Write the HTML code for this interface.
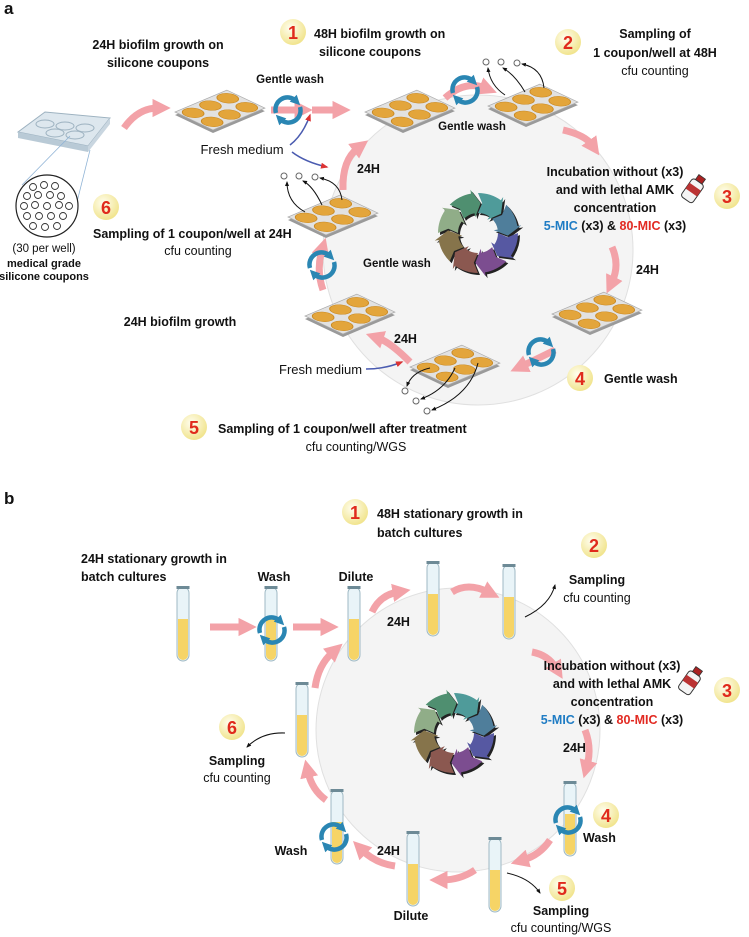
<!DOCTYPE html>
<html><head><meta charset="utf-8"><style>
html,body{margin:0;padding:0;background:#fff}
svg{display:block}
text{font-family:"Liberation Sans",Arial,sans-serif;fill:#111}
.b{font-weight:bold;font-size:12.5px}
.r{font-size:12.5px}
.s{font-size:11.5px}
.n{font-weight:bold;font-size:18px;fill:#e02a1c;text-anchor:middle}
.pk{fill:none;stroke:#f3a2a8;stroke-width:7;marker-end:url(#ph)}
.bl{fill:none;stroke:#111;stroke-width:1;marker-end:url(#bh)}
.bu{fill:none;stroke:#4a5bb0;stroke-width:1.5;marker-end:url(#rh)}
</style></head><body>
<svg width="749" height="937" viewBox="0 0 749 937" xmlns="http://www.w3.org/2000/svg">
<defs>
<marker id="ph" viewBox="0 0 10 10" refX="3" refY="5" markerWidth="2.6" markerHeight="2.8" orient="auto"><path d="M0,0 L10,5 L0,10 Z" fill="#f3a2a8"/></marker>
<marker id="bh" viewBox="0 0 10 10" refX="8" refY="5" markerWidth="5" markerHeight="5" orient="auto"><path d="M0,1 L10,5 L0,9 Z" fill="#111"/></marker>
<marker id="rh" viewBox="0 0 10 10" refX="8" refY="5" markerWidth="5" markerHeight="5" orient="auto"><path d="M0,1 L10,5 L0,9 Z" fill="#d33"/></marker>
<marker id="wh" viewBox="0 0 10 10" refX="4" refY="5" markerWidth="2.2" markerHeight="2.4" orient="auto"><path d="M0,0 L10,5 L0,10 Z" fill="#2a86b3"/></marker>
<radialGradient id="bg" cx="40%" cy="35%" r="65%"><stop offset="0" stop-color="#fffef0"/><stop offset="1" stop-color="#f1e48e"/></radialGradient>
<g id="plate">
  <g transform="matrix(17.3,-7.3,19,9,0,27)">
    <rect x="0" y="0" width="3" height="2" fill="#9a9a9a"/>
  </g>
  <g transform="matrix(17.3,-7.3,19,9,0,24)">
    <rect x="0" y="0" width="3" height="2" fill="#e2e2e2" stroke="#aaa" stroke-width="0.05"/>
    <g fill="#e3a53b" stroke="#c98a25" stroke-width="0.04">
      <circle cx="0.5" cy="0.5" r="0.42"/><circle cx="1.5" cy="0.5" r="0.42"/><circle cx="2.5" cy="0.5" r="0.42"/>
      <circle cx="0.5" cy="1.5" r="0.42"/><circle cx="1.5" cy="1.5" r="0.42"/><circle cx="2.5" cy="1.5" r="0.42"/>
    </g>
  </g>
</g>
<g id="tube">
  <rect x="-6" y="0" width="12" height="74" rx="6" fill="#e9f4f8" stroke="#9fb9c4" stroke-width="1"/>
  <path d="M-5,32 L5,32 L5,68 A5,5 0 0 1 -5,68 Z" fill="#f6d466"/>
  <rect x="-6.5" y="-1" width="13" height="3" fill="#6d8a96"/>
</g>
<g id="wash">
  <path d="M-12,3 A12,12 0 0 1 8,-9" fill="none" stroke="#2a86b3" stroke-width="4.5" marker-end="url(#wh)"/>
  <path d="M12,-3 A12,12 0 0 1 -8,9" fill="none" stroke="#2a86b3" stroke-width="4.5" marker-end="url(#wh)"/>
</g>
<path id="seg" d="M0,-40 A40,40 0 0 1 22.9,-32.8 L25.2,-36 L23,-19.3 L9.2,-13.1 L11.5,-16.4 A20,20 0 0 0 0,-20 L4.2,-29.7 Z"/>
<g id="cycle">
  <g fill="#222" transform="translate(2,2)">
    <use href="#seg"/><use href="#seg" transform="rotate(45)"/><use href="#seg" transform="rotate(90)"/><use href="#seg" transform="rotate(135)"/>
    <use href="#seg" transform="rotate(180)"/><use href="#seg" transform="rotate(225)"/><use href="#seg" transform="rotate(270)"/><use href="#seg" transform="rotate(315)"/>
  </g>
  <use href="#seg" fill="#4f9b9a"/>
  <use href="#seg" transform="rotate(45)" fill="#4f7e9b"/>
  <use href="#seg" transform="rotate(90)" fill="#5658a2"/>
  <use href="#seg" transform="rotate(135)" fill="#7c4d90"/>
  <use href="#seg" transform="rotate(180)" fill="#8b5850"/>
  <use href="#seg" transform="rotate(225)" fill="#86744b"/>
  <use href="#seg" transform="rotate(270)" fill="#90ad88"/>
  <use href="#seg" transform="rotate(315)" fill="#4f8f70"/>
</g>
<g id="vial">
  <rect x="-7" y="-10" width="14" height="22" rx="3" fill="#f4f4f4" stroke="#333" stroke-width="1"/>
  <rect x="-7" y="-4" width="14" height="7" fill="#b33"/>
  <rect x="-4" y="-16" width="8" height="6" fill="#a22" stroke="#333" stroke-width="0.8"/>
</g>
</defs>

<!-- ============ PANEL A ============ -->
<text x="4" y="14" style="font-weight:bold;font-size:17px">a</text>
<circle cx="478" cy="250" r="155" fill="#f4f4f4" stroke="#e0e0e0"/>
<use href="#cycle" x="478" y="233"/>

<polygon points="18,132 45,112 110,118 88,146" fill="#dde7ee" stroke="#9db2c0"/>
<polygon points="18,132 88,146 88,152 18,138" fill="#b9cad6"/>
<polygon points="88,146 110,118 110,124 88,152" fill="#c9d6e0"/>
<g fill="none" stroke="#9db2c0"><ellipse cx="45" cy="124" rx="9" ry="4"/><ellipse cx="65" cy="126" rx="9" ry="4"/><ellipse cx="85" cy="128" rx="9" ry="4"/><ellipse cx="55" cy="133" rx="9" ry="4"/><ellipse cx="75" cy="135" rx="9" ry="4"/></g>
<line x1="70" y1="136" x2="22" y2="185" stroke="#8fb3d6" stroke-width="0.8"/>
<line x1="90" y1="150" x2="75" y2="210" stroke="#8fb3d6" stroke-width="0.8"/>
<circle cx="47" cy="206" r="31" fill="#fff" stroke="#222" stroke-width="1.2"/>
<g fill="none" stroke="#333" stroke-width="0.9">
<circle cx="33" cy="187" r="3.5"/><circle cx="44" cy="185" r="3.5"/><circle cx="55" cy="186" r="3.5"/><circle cx="27" cy="196" r="3.5"/><circle cx="38" cy="195" r="3.5"/><circle cx="50" cy="195" r="3.5"/><circle cx="61" cy="196" r="3.5"/><circle cx="24" cy="206" r="3.5"/><circle cx="35" cy="205" r="3.5"/><circle cx="47" cy="206" r="3.5"/><circle cx="59" cy="205" r="3.5"/><circle cx="69" cy="206" r="3.5"/><circle cx="27" cy="216" r="3.5"/><circle cx="39" cy="216" r="3.5"/><circle cx="51" cy="216" r="3.5"/><circle cx="63" cy="216" r="3.5"/><circle cx="33" cy="226" r="3.5"/><circle cx="45" cy="227" r="3.5"/><circle cx="57" cy="226" r="3.5"/>
</g>
<text x="44" y="252" class="s" text-anchor="middle">(30 per well)</text>
<text x="44" y="267" class="b" style="font-size:11px" text-anchor="middle">medical grade</text>
<text x="44" y="280" class="b" style="font-size:11px" text-anchor="middle">silicone coupons</text>

<path class="pk" d="M124,128 Q138,108 158,108"/>
<text x="158" y="49" class="b" text-anchor="middle">24H biofilm growth on</text>
<text x="158" y="67" class="b" text-anchor="middle">silicone coupons</text>
<use href="#plate" x="175" y="88"/>
<path class="pk" d="M271,110 L300,110"/>
<path class="pk" d="M312,110 L338,110"/>
<use href="#wash" x="288" y="110"/>
<text x="290" y="83" class="b" style="font-size:11.5px" text-anchor="middle">Gentle wash</text>
<text x="242" y="154" class="r" text-anchor="middle" style="font-size:13px">Fresh medium</text>
<path class="bu" d="M290,145 Q303,135 310,115"/>
<path class="bu" d="M292,152 Q305,162 327,167"/>

<circle cx="293" cy="32" r="13" fill="url(#bg)"/><text x="293" y="39" class="n">1</text>
<text x="314" y="38" class="b">48H biofilm growth on</text>
<text x="370" y="56" class="b" text-anchor="middle">silicone coupons</text>
<use href="#plate" x="365" y="88"/>
<path class="pk" d="M445,98 Q465,80 485,88"/>
<use href="#wash" x="465" y="90"/>
<text x="472" y="130" class="b" style="font-size:11.5px" text-anchor="middle">Gentle wash</text>
<use href="#plate" x="488" y="82"/>
<g fill="#fff" stroke="#666" stroke-width="1"><circle cx="486" cy="62" r="3"/><circle cx="501" cy="62" r="3"/><circle cx="517" cy="63" r="3"/></g>
<path class="bl" d="M505,95 Q490,85 488,68"/>
<path class="bl" d="M525,92 Q515,75 503,68"/>
<path class="bl" d="M544,88 Q542,68 522,64"/>

<circle cx="568" cy="42" r="13" fill="url(#bg)"/><text x="568" y="49" class="n">2</text>
<text x="655" y="38" class="b" text-anchor="middle">Sampling of</text>
<text x="655" y="57" class="b" text-anchor="middle">1 coupon/well at 48H</text>
<text x="655" y="75" class="r" text-anchor="middle">cfu counting</text>
<path class="pk" d="M563,130 Q585,135 592,145"/>

<text x="615" y="176" class="b" text-anchor="middle">Incubation without (x3)</text>
<text x="615" y="194" class="b" text-anchor="middle">and with lethal AMK</text>
<text x="615" y="212" class="b" text-anchor="middle">concentration</text>
<text x="615" y="230" class="b" text-anchor="middle"><tspan style="fill:#1f7cc4">5-MIC</tspan> (x3) &amp; <tspan style="fill:#e22a22">80-MIC</tspan> (x3)</text>
<use href="#vial" transform="translate(693,190) rotate(35)"/>
<circle cx="727" cy="196" r="13" fill="url(#bg)"/><text x="727" y="203" class="n">3</text>
<path class="pk" d="M612,247 Q620,265 612,282"/>
<text x="636" y="274" class="b">24H</text>
<use href="#plate" x="552" y="290"/>

<path class="pk" d="M555,350 Q535,360 522,366"/>
<use href="#wash" x="541" y="352"/>
<circle cx="580" cy="378" r="13" fill="url(#bg)"/><text x="580" y="385" class="n">4</text>
<text x="604" y="383" class="b">Gentle wash</text>

<use href="#plate" x="410" y="343"/>
<g fill="#fff" stroke="#666" stroke-width="1"><circle cx="405" cy="391" r="3"/><circle cx="416" cy="401" r="3"/><circle cx="427" cy="411" r="3"/></g>
<path class="bl" d="M430,368 Q412,372 407,386"/>
<path class="bl" d="M455,368 Q445,390 421,399"/>
<path class="bl" d="M478,363 Q470,395 432,410"/>
<text x="279" y="374" class="r" style="font-size:13px">Fresh medium</text>
<path class="bu" d="M366,369 Q385,369 402,362"/>
<circle cx="194" cy="427" r="13" fill="url(#bg)"/><text x="194" y="434" class="n">5</text>
<text x="218" y="433" class="b">Sampling of 1 coupon/well after treatment</text>
<text x="356" y="451" class="r" text-anchor="middle">cfu counting/WGS</text>
<path class="pk" d="M410,362 Q390,342 378,338"/>
<text x="394" y="343" class="b">24H</text>

<text x="180" y="326" class="b" text-anchor="middle">24H biofilm growth</text>
<use href="#plate" x="305" y="292"/>
<path class="pk" d="M323,290 Q316,270 322,250"/>
<use href="#wash" x="322" y="265"/>
<text x="363" y="267" class="b" style="font-size:11.5px">Gentle wash</text>
<use href="#plate" x="288" y="193"/>
<g fill="#fff" stroke="#666" stroke-width="1"><circle cx="284" cy="176" r="3"/><circle cx="299" cy="176" r="3"/><circle cx="315" cy="177" r="3"/></g>
<path class="bl" d="M305,212 Q287,202 287,182"/>
<path class="bl" d="M322,205 Q313,186 303,181"/>
<path class="bl" d="M342,200 Q340,182 320,178"/>
<path class="pk" d="M343,190 Q342,160 358,148"/>
<text x="357" y="173" class="b">24H</text>
<circle cx="106" cy="207" r="13" fill="url(#bg)"/><text x="106" y="214" class="n">6</text>
<text x="93" y="238" class="b">Sampling of 1 coupon/well at 24H</text>
<text x="198" y="255" class="r" text-anchor="middle">cfu counting</text>

<!-- ============ PANEL B ============ -->
<text x="4" y="504" style="font-weight:bold;font-size:17px">b</text>
<circle cx="458" cy="730" r="142" fill="#f4f4f4" stroke="#e0e0e0"/>
<use href="#cycle" x="454" y="733"/>

<circle cx="355" cy="512" r="13" fill="url(#bg)"/><text x="355" y="519" class="n">1</text>
<text x="377" y="518" class="b">48H stationary growth in</text>
<text x="377" y="537" class="b">batch cultures</text>
<text x="81" y="563" class="b">24H stationary growth in</text>
<text x="81" y="581" class="b">batch cultures</text>

<use href="#tube" x="183" y="587"/>
<path class="pk" d="M210,627 L244,627"/>
<text x="274" y="581" class="b" text-anchor="middle">Wash</text>
<use href="#tube" x="271" y="587"/>
<use href="#wash" x="272" y="630"/>
<path class="pk" d="M293,627 L326,627"/>
<text x="356" y="581" class="b" text-anchor="middle">Dilute</text>
<use href="#tube" x="354" y="587"/>
<path class="pk" d="M372,612 Q380,595 398,592"/>
<text x="387" y="626" class="b">24H</text>
<use href="#tube" x="433" y="562"/>
<path class="pk" d="M452,592 Q468,582 488,592"/>
<use href="#tube" x="509" y="565"/>
<path class="bl" d="M525,617 Q550,605 555,585"/>
<circle cx="594" cy="545" r="13" fill="url(#bg)"/><text x="594" y="552" class="n">2</text>
<text x="597" y="584" class="b" text-anchor="middle">Sampling</text>
<text x="597" y="602" class="r" text-anchor="middle">cfu counting</text>
<path class="pk" d="M532,652 Q548,655 556,668"/>

<text x="612" y="670" class="b" text-anchor="middle">Incubation without (x3)</text>
<text x="612" y="688" class="b" text-anchor="middle">and with lethal AMK</text>
<text x="612" y="706" class="b" text-anchor="middle">concentration</text>
<text x="612" y="724" class="b" text-anchor="middle"><tspan style="fill:#1f7cc4">5-MIC</tspan> (x3) &amp; <tspan style="fill:#e22a22">80-MIC</tspan> (x3)</text>
<use href="#vial" transform="translate(690,682) rotate(35)"/>
<circle cx="727" cy="690" r="13" fill="url(#bg)"/><text x="727" y="697" class="n">3</text>
<text x="563" y="752" class="b">24H</text>
<path class="pk" d="M585,730 Q592,748 587,766"/>

<use href="#tube" x="570" y="782"/>
<use href="#wash" x="568" y="820"/>
<circle cx="606" cy="815" r="13" fill="url(#bg)"/><text x="606" y="822" class="n">4</text>
<text x="583" y="842" class="b">Wash</text>
<path class="pk" d="M550,840 Q540,855 523,860"/>
<use href="#tube" x="495" y="838"/>
<path class="bl" d="M507,873 Q530,878 540,893"/>
<circle cx="562" cy="888" r="13" fill="url(#bg)"/><text x="562" y="895" class="n">5</text>
<text x="561" y="915" class="b" text-anchor="middle">Sampling</text>
<text x="561" y="932" class="r" text-anchor="middle">cfu counting/WGS</text>
<path class="pk" d="M475,870 Q460,880 442,880"/>
<use href="#tube" x="413" y="832"/>
<text x="411" y="920" class="b" text-anchor="middle">Dilute</text>
<path class="pk" d="M395,866 Q375,863 362,850"/>
<text x="377" y="855" class="b">24H</text>
<use href="#tube" x="337" y="790"/>
<use href="#wash" x="334" y="837"/>
<text x="291" y="855" class="b" text-anchor="middle">Wash</text>
<path class="pk" d="M326,800 Q312,790 308,772"/>
<use href="#tube" x="302" y="683"/>
<path class="bl" d="M285,733 Q262,732 247,747"/>
<circle cx="232" cy="727" r="13" fill="url(#bg)"/><text x="232" y="734" class="n">6</text>
<text x="237" y="765" class="b" text-anchor="middle">Sampling</text>
<text x="237" y="782" class="r" text-anchor="middle">cfu counting</text>
<path class="pk" d="M315,688 Q318,665 333,652"/>
</svg>
</body></html>
